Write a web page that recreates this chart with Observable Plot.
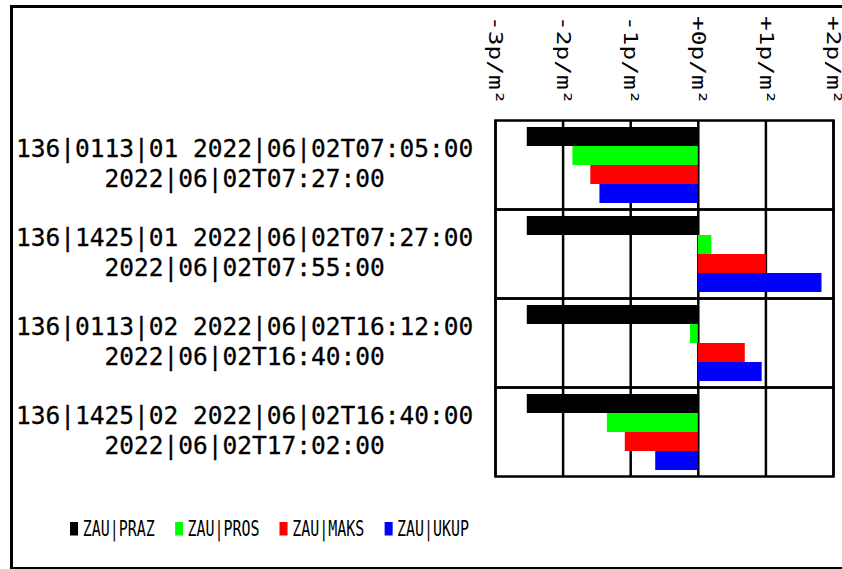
<!DOCTYPE html>
<html><head><meta charset="utf-8">
<script src="https://cdn.jsdelivr.net/npm/d3@7"></script>
<script src="https://cdn.jsdelivr.net/npm/@observablehq/plot@0.6"></script>
<style>
html,body{margin:0;padding:0;background:#fff;width:842px;height:569px;overflow:hidden;}
#box{position:absolute;left:10px;top:5px;width:900px;height:559px;border:3px solid #000;pointer-events:none;}
#chart{position:absolute;left:0;top:0;}
#legend{position:absolute;left:70px;top:512px;transform:scaleX(0.73);transform-origin:0 0;white-space:nowrap;}
#legend span{margin-right:27.4px !important;}
#legend svg{margin-right:6.4px !important;}
</style></head><body>
<div id="chart"></div><div id="legend"></div><div id="box"></div>
<script>
const ids = ["136|0113|01", "136|1425|01", "136|0113|02", "136|1425|02"];
const starts = ["2022|06|02T07:05:00", "2022|06|02T07:27:00", "2022|06|02T16:12:00", "2022|06|02T16:40:00"];
const ends = ["2022|06|02T07:27:00", "2022|06|02T07:55:00", "2022|06|02T16:40:00", "2022|06|02T17:02:00"];
const series = ["ZAU|PRAZ", "ZAU|PROS", "ZAU|MAKS", "ZAU|UKUP"];
const colors = ["#000000", "#00ff00", "#ff0000", "#0000ff"];
const praz = [-2.53, -2.53, -2.53, -2.53];
const pros = [-1.855, 0.2, -0.115, -1.345];
const maks = [-1.59, 1.01, 0.695, -1.08];
const ukup = [-1.455, 1.83, 0.945, -0.63];
const xTicks = [-3, -2, -1, 0, 1, 2];

const seriesValues = [praz, pros, maks, ukup];
const rows = ids.flatMap((g, i) => series.map((s, j) => ({group: g, series: s, value: seriesValues[j][i]})));
const fmt = d => (d >= 0 ? "+" : "-") + Math.abs(d) + "p/m²";

const chart = Plot.plot({
  width: 842, height: 490,
  marginLeft: 495, marginRight: 9, marginTop: 119, marginBottom: 13,
  style: {background: "transparent", fontFamily: "'DejaVu Sans Mono', monospace", color: "black"},
  x: {domain: [-3, 2], label: null},
  y: {domain: series, axis: null, paddingInner: 0, paddingOuter: 0.24},
  fy: {domain: ids, axis: null, padding: 0},
  color: {domain: series, range: colors},
  marks: [
    Plot.ruleX(xTicks, {stroke: "black", strokeWidth: 2.5}),
    Plot.frame({stroke: "black", strokeWidth: 2.5}),
    Plot.barX(rows, {x: "value", y: "series", fy: "group", fill: "series"}),
    Plot.axisX(xTicks, {anchor: "top", label: null, tickSize: 0, tickRotate: 90, tickPadding: 16, textAnchor: "end", lineAnchor: "middle", fontSize: 24.5, tickFormat: fmt, fill: "black", stroke: "black", strokeWidth: 0.3}),
    Plot.text(ids, {fy: d => d, text: (d, i) => `${d} ${starts[i]}\n${ends[i]}`, frameAnchor: "left", dx: -251, dy: -3, textAnchor: "middle", lineHeight: 1.23, fontSize: 24.5, fill: "black", stroke: "black", strokeWidth: 0.3})
  ]
});
chart.querySelectorAll('g[aria-label="x-axis tick label"] text').forEach(t => {
  const tr = t.getAttribute("transform") || "";
  t.setAttribute("transform", tr + " scale(1,0.8)");
});
document.getElementById("chart").append(chart);

const leg = Plot.legend({
  color: {type: "categorical", domain: series, range: colors},
  legend: "swatches", swatchWidth: 11, swatchHeight: 13.5,
  style: {fontFamily: "'DejaVu Sans Mono', monospace", fontSize: "20.5px", color: "black"}
});
document.getElementById("legend").append(leg);
</script></body></html>
